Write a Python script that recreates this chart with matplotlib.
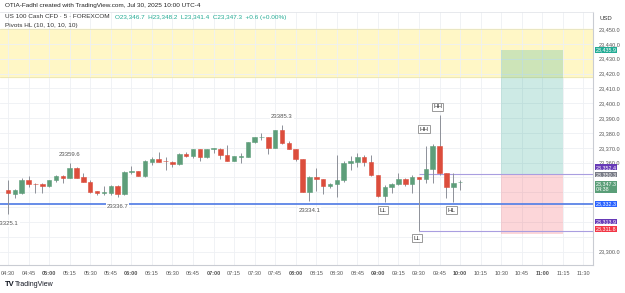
import matplotlib.pyplot as plt
from matplotlib.transforms import blended_transform_factory
import numpy as np

plt.rcParams['font.family'] = ['Liberation Sans', 'DejaVu Sans']

# 5-minute candles, 04:30 -> 10:00
opens = [23341.6, 23339.1, 23339.9, 23348.3, 23345.6, 23345.6, 23344.5, 23348.0, 23351.2, 23349.9,
         23356.4, 23350.1, 23347.2, 23340.9, 23339.6, 23339.8, 23344.0, 23338.7, 23353.9, 23354.4,
         23351.0, 23360.6, 23362.7, 23361.0, 23360.7, 23359.1, 23365.8, 23364.7, 23369.0, 23363.6,
         23369.3, 23369.4, 23365.2, 23361.3, 23364.0, 23364.0, 23373.7, 23377.1, 23377.1, 23370.0,
         23382.0, 23373.0, 23369.2, 23362.3, 23340.4, 23350.5, 23348.8, 23344.5, 23345.8, 23348.3,
         23359.6, 23360.6, 23363.6, 23360.2, 23351.7, 23337.5, 23343.8, 23345.6, 23348.8, 23345.6,
         23350.3, 23349.2, 23355.5, 23371.2, 23352.8, 23343.8, 23346.7]
highs = [23348.3, 23342.5, 23349.5, 23351.0, 23346.0, 23346.5, 23348.5, 23351.7, 23351.7, 23359.6,
         23356.9, 23353.2, 23348.3, 23341.0, 23344.0, 23345.0, 23345.0, 23354.6, 23358.0, 23354.7,
         23362.0, 23364.0, 23367.0, 23363.6, 23361.0, 23366.3, 23367.4, 23369.3, 23369.3, 23369.3,
         23370.0, 23369.6, 23371.9, 23364.8, 23366.3, 23374.2, 23377.4, 23379.8, 23377.3, 23382.3,
         23385.3, 23374.5, 23369.5, 23362.5, 23351.0, 23356.2, 23349.0, 23346.5, 23365.0, 23361.0,
         23364.7, 23366.3, 23365.0, 23365.0, 23352.0, 23345.0, 23346.2, 23352.8, 23349.8, 23351.7,
         23350.5, 23371.5, 23372.3, 23392.0, 23353.2, 23352.8, 23348.2]
lows = [23325.1, 23336.2, 23339.0, 23343.8, 23339.4, 23339.4, 23343.8, 23347.0, 23346.5, 23349.5,
        23349.5, 23346.8, 23339.8, 23338.0, 23338.5, 23338.0, 23336.7, 23338.2, 23352.3, 23350.8,
        23350.6, 23358.5, 23360.4, 23355.0, 23356.9, 23358.5, 23363.6, 23363.0, 23361.3, 23363.0,
        23366.3, 23362.7, 23361.0, 23361.0, 23359.6, 23363.6, 23373.2, 23375.3, 23365.8, 23369.6,
        23372.5, 23369.0, 23361.3, 23340.0, 23334.1, 23341.0, 23338.7, 23342.6, 23337.0, 23347.0,
        23355.0, 23357.0, 23357.6, 23351.2, 23337.0, 23333.5, 23339.4, 23345.0, 23344.0, 23339.4,
        23313.9, 23346.0, 23346.0, 23352.0, 23336.0, 23333.7, 23341.4]
closes = [23339.4, 23341.4, 23348.3, 23345.6, 23345.4, 23344.5, 23348.1, 23351.2, 23349.9, 23356.4,
          23349.9, 23347.2, 23340.4, 23339.4, 23339.9, 23344.3, 23338.7, 23353.9, 23354.2, 23351.0,
          23361.1, 23362.7, 23360.6, 23360.9, 23359.1, 23365.8, 23364.7, 23369.0, 23363.6, 23369.0,
          23369.5, 23365.0, 23361.3, 23364.5, 23364.1, 23373.7, 23377.1, 23377.2, 23370.0, 23382.0,
          23373.0, 23369.2, 23362.3, 23340.4, 23350.5, 23348.8, 23344.5, 23345.8, 23348.3, 23360.0,
          23361.1, 23363.6, 23360.2, 23351.7, 23337.5, 23343.8, 23345.6, 23348.8, 23345.6, 23350.5,
          23349.2, 23355.5, 23371.2, 23352.8, 23343.8, 23346.5, 23347.3]

time_labels = ['04:30', '04:45', '05:00', '05:15', '05:30', '05:45', '06:00', '06:15', '06:30', '06:45',
               '07:00', '07:15', '07:30', '07:45', '08:00', '08:15', '08:30', '08:45', '09:00', '09:15',
               '09:30', '09:45', '10:00', '10:15', '10:30', '10:45', '11:00', '11:15', '11:30']
price_ticks = [23300, 23310, 23320, 23330, 23340, 23350, 23360, 23370, 23380, 23390, 23400,
               23410, 23420, 23430, 23440, 23450]
hidden_ticks = [23310, 23320, 23330, 23340, 23350]   # covered by the coloured scale labels

# pivots
pivot_values_hi = [(9, 23359.6), (40, 23385.3)]
pivot_values_lo = [(0, 23325.1), (16, 23336.7), (44, 23334.1)]
pivot_tags = [(55, 23333.5, 'LL', -6), (60, 23313.9, 'LL', -5), (61, 23372.3, 'HH', 11),
              (63, 23392.0, 'HH', 6), (65, 23333.7, 'HL', -6)]

support = 23332.3
zone_top, zone_bot = 23450.0, 23417.7
target, entry, stop = 23435.9, 23352.4, 23311.8
pos_start, pos_end = 72, 81
purple_levels = [23352.4, 23313.9]

# right-scale price labels: value, text, colour, y offset (pt)
scale_labels = [(23435.9, '23,435.9', '#22ab94', 0),
                (23352.4, '23,352.4', '#673ab7', 4.7),
                (23350.3, '23,350.3', '#787b86', 1.8),
                (23347.3, '23,347.3\n04:38', '#5a9e78', -4.0),
                (23332.3, '23,332.3', '#2962ff', -0.1),
                (23313.9, '23,313.9', '#673ab7', 6.9),
                (23311.8, '23,311.8', '#f23645', 3.7)]

green = '#5e9e7a'
red = '#dc4d3c'
wick = '#8d9099'

fig = plt.figure(figsize=(6.25, 2.93), dpi=100)
ax = fig.add_axes([0, 1 - 265 / 293, 593 / 625, 253 / 293])
x = np.arange(len(opens))
o = np.array(opens); c = np.array(closes)
cols = [green if cc >= oo else red for oo, cc in zip(o, c)]

ax.vlines(x, lows, highs, color=wick, lw=0.7, zorder=3)
ax.bar(x, np.maximum(np.abs(c - o), 0.35), bottom=np.minimum(o, c), width=0.66,
       color=cols, edgecolor=cols, linewidth=0.4, zorder=4)

ax.set_xlim(-1.17, 85.4)
ax.set_ylim(23291.1, 23461.4)

# zones
ax.axhspan(zone_bot, zone_top, color='#fff7c6', zorder=0.5)
ax.axhline(zone_top, color='#e6e2b0', lw=0.5, zorder=0.6)
ax.axhline(zone_bot, color='#e6e2b0', lw=0.5, zorder=0.6)
ax.fill_between([pos_start, pos_end], entry, target, color='#089981', alpha=0.2, lw=0, zorder=1)
ax.fill_between([pos_start, pos_end], stop, entry, color='#f23645', alpha=0.2, lw=0, zorder=1)

ax.axhline(support, color='#5b83e6', lw=1.3, zorder=2)
ax.hlines(purple_levels, 60, 85.4, color='#a99ee0', lw=0.8, zorder=2)

for i, p in pivot_values_hi:
    ax.annotate(f'{p}', (i, p), xytext=(0, 6.5), textcoords='offset points', ha='center',
                va='center', fontsize=4.3, color='#555555', zorder=5,
                bbox=dict(facecolor='white', edgecolor='none', pad=0.6))
for i, p in pivot_values_lo:
    ax.annotate(f'{p}', (i, p), xytext=(0, -6.5), textcoords='offset points', ha='center',
                va='center', fontsize=4.3, color='#555555', zorder=5,
                bbox=dict(facecolor='white', edgecolor='none', pad=0.6))
for i, p, t, off in pivot_tags:
    ax.annotate(t, (i - 0.3, p), xytext=(0, off), textcoords='offset points', ha='center',
                va='center', fontsize=4.5, color='#333333', zorder=5,
                bbox=dict(facecolor='white', edgecolor='#8a8a8a', lw=0.6, pad=1.0))

# grid and axes
ax.set_xticks(np.arange(0, 3 * len(time_labels), 3))
ax.set_xticklabels(time_labels, fontsize=4, color='#555555')
for lab in ax.get_xticklabels():
    if lab.get_text().endswith(':00'):
        lab.set_fontweight('bold')
ax.set_yticks(price_ticks)
ax.set_yticklabels(['' if v in hidden_ticks else f'{v:,.1f}' for v in price_ticks],
                   fontsize=4, color='#555555')
ax.yaxis.tick_right()
ax.tick_params(length=0, pad=4)
ax.grid(True, color='#eef0f4', lw=0.6, zorder=0)
ax.set_axisbelow(True)
ax.spines['left'].set_visible(False)
ax.spines['top'].set_color('#e3e5ea')
ax.spines['top'].set_linewidth(0.6)
ax.spines['right'].set_color('#c9ccd3')
ax.spines['bottom'].set_color('#c9ccd3')
ax.spines['right'].set_linewidth(0.8)
ax.spines['bottom'].set_linewidth(0.8)

trans = blended_transform_factory(ax.transAxes, ax.transData)
for v, t, col, off in scale_labels:
    ax.annotate(t, (1.0, v), xycoords=trans, xytext=(2, off), textcoords='offset points',
                ha='left', va='center', fontsize=3.9, color='white', zorder=6,
                linespacing=1.2, annotation_clip=False,
                bbox=dict(facecolor=col, edgecolor='none', pad=0.3))

# header and footer
fig.text(5 / 625, 1 - 6 / 293, 'OTIA-Fadhl created with TradingView.com, Jul 30, 2025 10:00 UTC-4',
         fontsize=4.6, color='#222222', va='center')
name = fig.text(5 / 625, 1 - 17 / 293, 'US 100 Cash CFD · 5 · FOREXCOM', fontsize=4.6,
                color='#333333', va='center')
plt.annotate(f'O{opens[-1]:,.1f}  H{highs[-1]:,.1f}  L{lows[-1]:,.1f}  C{closes[-1]:,.1f}  '
             f'+{closes[-1] - opens[-1]:.1f} (+0.00%)',
             xy=(1, 0.5), xycoords=name, xytext=(4, 0), textcoords='offset points',
             fontsize=4.6, color='#22ab94', va='center', annotation_clip=False)
fig.text(5 / 625, 1 - 25 / 293, 'Pivots HL (10, 10, 10, 10)', fontsize=4.6, color='#333333',
         va='center')
fig.text(599 / 625, 1 - 18 / 293, 'USD', fontsize=4.3, color='#333333', va='center')
fig.text(5 / 625, 1 - 284 / 293, 'TV', fontsize=5.5, fontweight='bold', color='#131722',
         va='center')
fig.text(15 / 625, 1 - 284 / 293, 'TradingView', fontsize=5, color='#131722', va='center')

fig.savefig('out.png', dpi=100)
